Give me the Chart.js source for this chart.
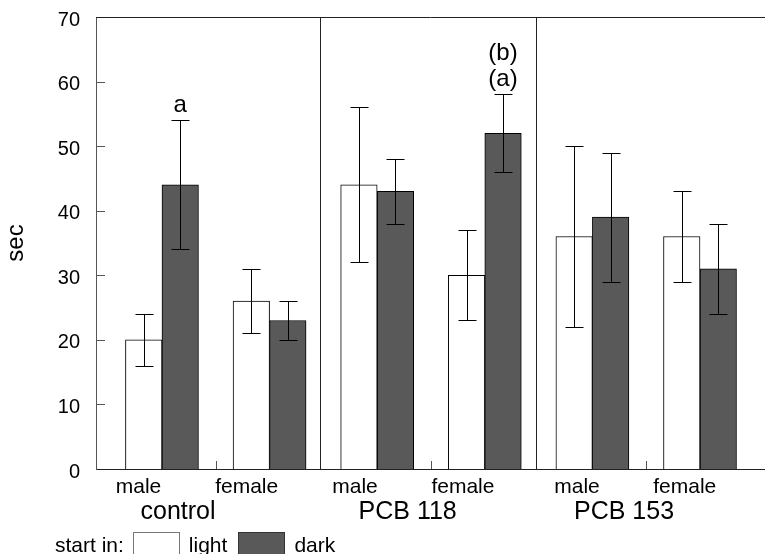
<!DOCTYPE html>
<html>
<head>
<meta charset="utf-8">
<style>
    html, body { margin: 0; padding: 0; background: #fff; }
    canvas { display: block; }
</style>
<script src="https://cdn.jsdelivr.net/npm/chart.js@4/dist/chart.umd.min.js"></script>
</head>
<body>
<canvas id="chart" width="765" height="554"></canvas>
<script>
// categories: treatment x sex
const groups = ["control", "PCB 118", "PCB 153"];
const sexes = ["male", "female", "male", "female", "male", "female"];
const seriesNames = ["light", "dark"];

// means and error bar limits (sec)
const lightMeans = [20, 26, 44, 30, 36, 36];
const lightLow = [16, 21, 32, 23, 22, 29];
const lightHigh = [24, 31, 56, 37, 50, 43];

const darkMeans = [44, 23, 43, 52, 39, 31];
const darkLow = [34, 20, 38, 46, 29, 24];
const darkHigh = [54, 26, 48, 58, 49, 38];

const yTicks = [0, 10, 20, 30, 40, 50, 60, 70];

// significance marks above the dark bars
const marks = [
    { index: 0, lines: ["a"] },
    { index: 3, lines: ["(b)", "(a)"] }
];

// layout (x in category units, first category = 1)
const X_MIN = 0.387;
const X_MAX = 6.604;
const sexLabelPos = [0.782, 1.787, 2.794, 3.797, 4.857, 5.858];
const groupLabelPos = [1.149, 3.283, 5.294];
const separatorPos = [2.47, 4.48];
const innerTickPos = [1.5, 3.5, 5.5];

const DARK = "#595959";
const FONT = '"Liberation Sans", Arial, Helvetica, sans-serif';

Chart.defaults.font.family = FONT;
Chart.defaults.color = "#000";

const xTicks = sexes.map((label, i) => ({ value: sexLabelPos[i], label, group: false }))
    .concat(groups.map((label, i) => ({ value: groupLabelPos[i], label: ["", label], group: true })))
    .sort((a, b) => a.value - b.value);

const toPoints = (values) => values.map((y, i) => ({ x: i + 1, y }));

const errorBars = {
    id: "errorBars",
    afterDatasetsDraw(chart) {
        const { ctx } = chart;
        const yScale = chart.scales.y;
        const limits = [[lightLow, lightHigh], [darkLow, darkHigh]];
        ctx.save();
        ctx.strokeStyle = "#000";
        ctx.lineWidth = 1;
        chart.data.datasets.forEach((ds, d) => {
            const meta = chart.getDatasetMeta(d);
            meta.data.forEach((bar, i) => {
                const x = Math.round(bar.x) + 0.5;
                const lo = Math.round(yScale.getPixelForValue(limits[d][0][i])) + 0.5;
                const hi = Math.round(yScale.getPixelForValue(limits[d][1][i])) + 0.5;
                ctx.beginPath();
                ctx.moveTo(x, lo);
                ctx.lineTo(x, hi);
                ctx.moveTo(x - 9, lo);
                ctx.lineTo(x + 9, lo);
                ctx.moveTo(x - 9, hi);
                ctx.lineTo(x + 9, hi);
                ctx.stroke();
            });
        });

        // letters above the dark bars
        const darkMeta = chart.getDatasetMeta(1);
        ctx.fillStyle = "#000";
        ctx.font = "24px " + FONT;
        ctx.textAlign = "center";
        ctx.textBaseline = "alphabetic";
        marks.forEach((m) => {
            const x = darkMeta.data[m.index].x;
            const top = yScale.getPixelForValue(darkHigh[m.index]) - 8;
            m.lines.slice().reverse().forEach((line, k) => {
                ctx.fillText(line, x, top - k * 26);
            });
        });
        ctx.restore();
    }
};

const frame = {
    id: "frame",
    afterDraw(chart) {
        const { ctx, chartArea } = chart;
        const xScale = chart.scales.x;
        const yScale = chart.scales.y;
        ctx.save();
        ctx.strokeStyle = "#222";
        ctx.lineWidth = 1;
        ctx.beginPath();
        // top border
        ctx.moveTo(chartArea.left, chartArea.top + 0.5);
        ctx.lineTo(chartArea.right, chartArea.top + 0.5);
        // treatment separators
        separatorPos.forEach((v) => {
            const x = Math.round(xScale.getPixelForValue(v)) + 0.5;
            ctx.moveTo(x, chartArea.top);
            ctx.lineTo(x, chartArea.bottom);
        });
        ctx.stroke();

        // inward tick marks
        ctx.strokeStyle = "#555";
        ctx.beginPath();
        yTicks.slice(1, -1).forEach((v) => {
            const y = Math.round(yScale.getPixelForValue(v)) + 0.5;
            ctx.moveTo(chartArea.left, y);
            ctx.lineTo(chartArea.left + 9, y);
        });
        innerTickPos.forEach((v) => {
            const x = Math.round(xScale.getPixelForValue(v)) + 0.5;
            ctx.moveTo(x, chartArea.bottom);
            ctx.lineTo(x, chartArea.bottom - 8);
        });
        ctx.stroke();

        // legend: "start in: [ ] light [#] dark"
        const baseline = 551.5;
        let x = 55;
        ctx.font = "21px " + FONT;
        ctx.fillStyle = "#000";
        ctx.textBaseline = "alphabetic";
        ctx.textAlign = "left";
        ctx.fillText("start in:", x, baseline);
        x += ctx.measureText("start in:").width + 9;
        chart.data.datasets.forEach((ds, d) => {
            ctx.fillStyle = ds.backgroundColor;
            ctx.strokeStyle = d === 0 ? "#777" : "#333";
            ctx.fillRect(Math.round(x) + 0.5, 532.5, 46, 30);
            ctx.strokeRect(Math.round(x) + 0.5, 532.5, 46, 30);
            x += 47 + 9;
            ctx.fillStyle = "#000";
            ctx.fillText(ds.label, x, baseline);
            x += ctx.measureText(ds.label).width + 11;
        });
        ctx.restore();
    }
};

new Chart(document.getElementById("chart"), {
    type: "bar",
    data: {
        datasets: [
            {
                label: seriesNames[0],
                data: toPoints(lightMeans),
                backgroundColor: "#ffffff",
                borderColor: "#000",
                borderWidth: 1,
                barThickness: 36.5
            },
            {
                label: seriesNames[1],
                data: toPoints(darkMeans),
                backgroundColor: DARK,
                borderColor: "#000",
                borderWidth: 1,
                barThickness: 36.5
            }
        ]
    },
    options: {
        responsive: false,
        animation: false,
        layout: {
            padding: { top: 17, bottom: 35, left: 0, right: 0 }
        },
        plugins: {
            legend: { display: false },
            tooltip: { enabled: false }
        },
        scales: {
            x: {
                type: "linear",
                offset: false,
                min: X_MIN,
                max: X_MAX,
                afterBuildTicks: (axis) => {
                    axis.ticks = xTicks.map((t) => ({ value: t.value }));
                },
                afterFit: (axis) => {
                    axis.height = 50;
                    axis.paddingLeft = 0;
                    axis.paddingRight = 0;
                },
                grid: { display: false, drawTicks: false },
                border: { display: true, color: "#222", width: 1 },
                ticks: {
                    autoSkip: false,
                    maxRotation: 0,
                    minRotation: 0,
                    padding: 6,
                    color: "#000",
                    callback: (value, index) => xTicks[index].label,
                    font: (ctx) => xTicks[ctx.index] && xTicks[ctx.index].group
                        ? { size: 25, lineHeight: "25px" }
                        : { size: 21, lineHeight: "25px" }
                }
            },
            y: {
                min: 0,
                max: 70,
                afterBuildTicks: (axis) => {
                    axis.ticks = yTicks.map((v) => ({ value: v }));
                },
                afterFit: (axis) => {
                    axis.width = 96;
                    axis.paddingTop = 0;
                    axis.paddingBottom = 0;
                },
                grid: { display: false, drawTicks: false },
                border: { display: true, color: "#555", width: 1 },
                ticks: {
                    padding: 16,
                    labelOffset: 3,
                    color: "#000",
                    font: { size: 20 }
                },
                title: {
                    display: true,
                    text: "sec",
                    color: "#000",
                    font: { size: 24 },
                    padding: { top: 2, bottom: 0 }
                }
            }
        }
    },
    plugins: [errorBars, frame]
});
</script>
</body>
</html>
